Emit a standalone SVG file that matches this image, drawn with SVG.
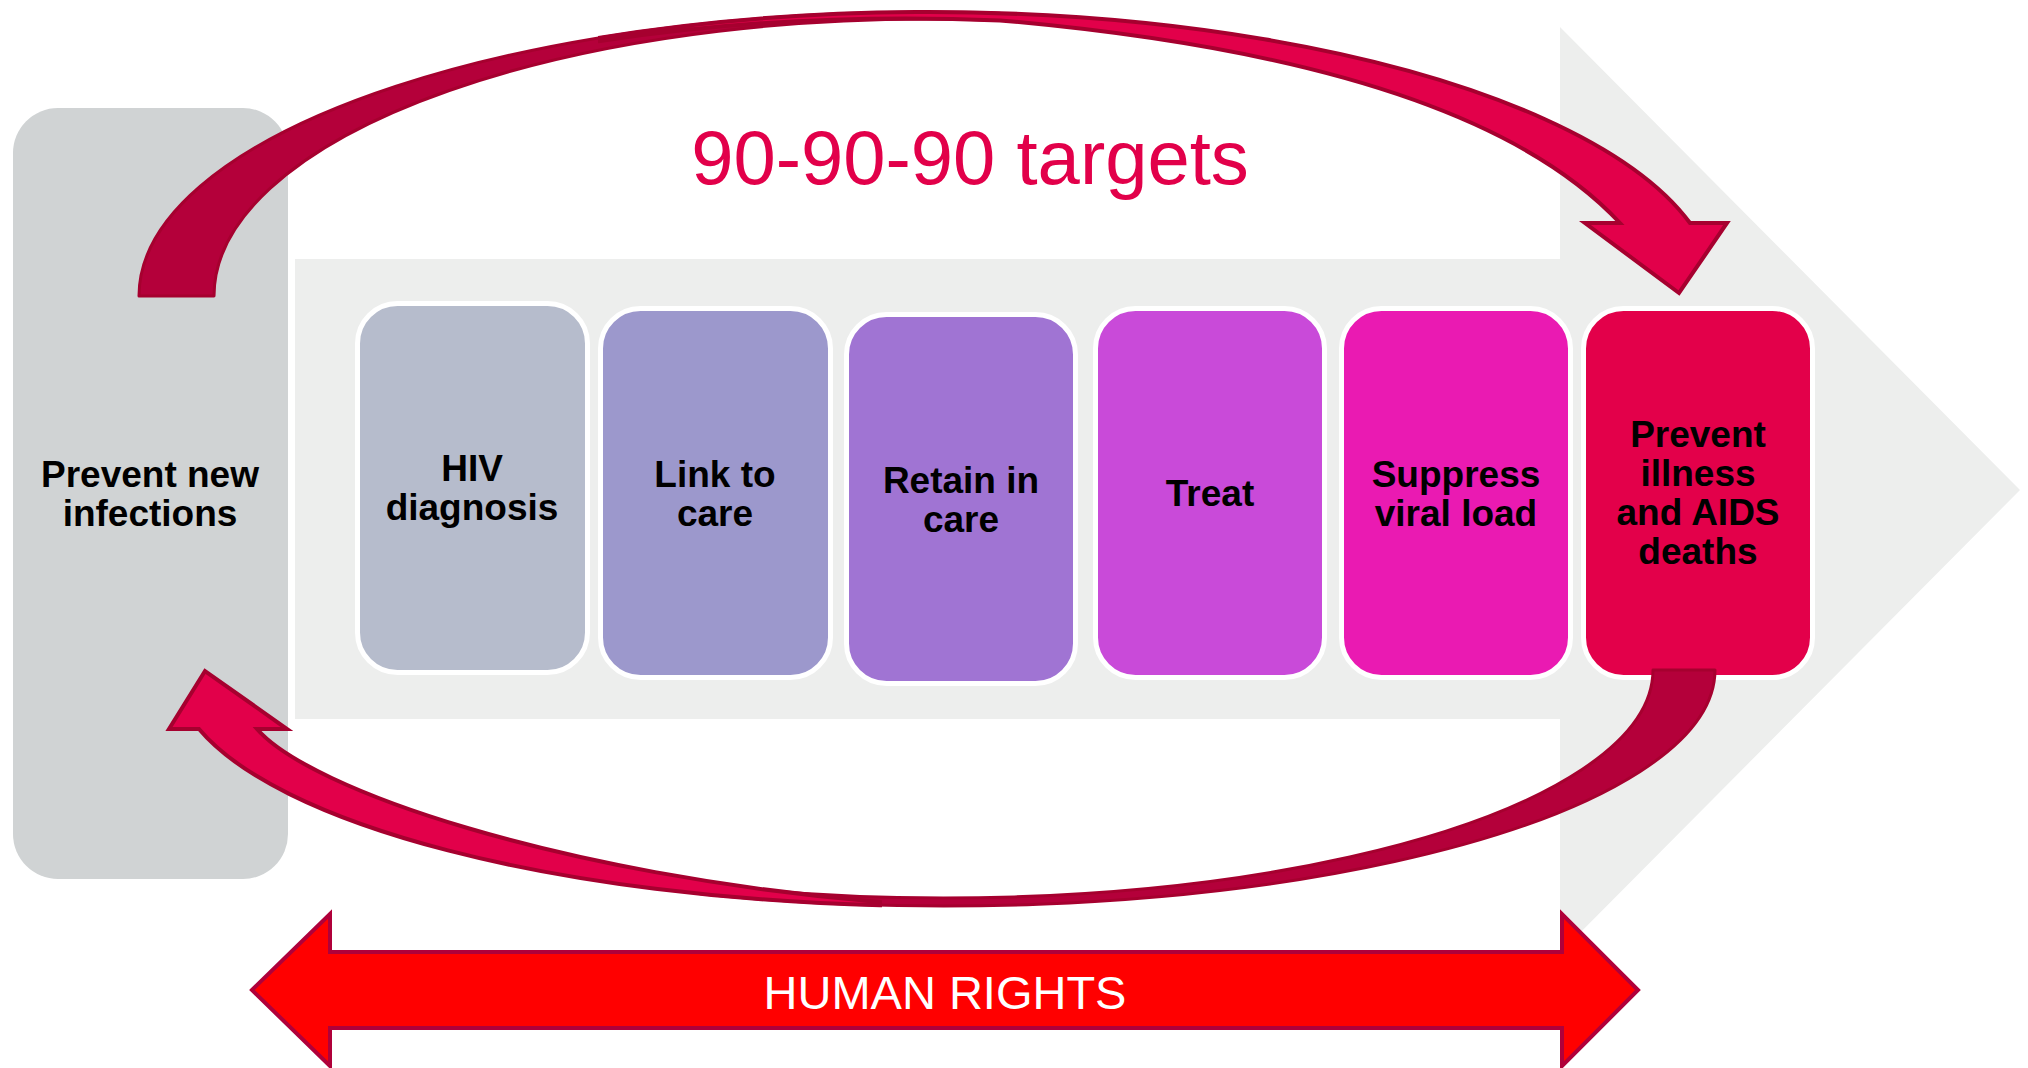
<svg xmlns="http://www.w3.org/2000/svg" width="2028" height="1068" viewBox="0 0 2028 1068">
  <style>
    .lbl { font-family: "Liberation Sans", Arial, sans-serif; font-weight: bold; font-size: 37px; fill: #000; text-anchor: middle; }
    .step { stroke: #ffffff; stroke-width: 5; }
    .back { fill: #b4003a; stroke: #a6002f; stroke-width: 3; stroke-linejoin: round; }
    .front { fill: #e2004a; stroke: #a6002f; stroke-width: 4; stroke-linejoin: miter; }
  </style>

  <rect width="2028" height="1068" fill="#ffffff"/>

  <!-- big background chevron -->
  <polygon id="chevron" points="295,259 1560,259 1560,27 2020,490 1560,953 1560,719 295,719" fill="#edeeed"/>

  <!-- left node -->
  <g id="prevent-new-infections">
    <rect x="13" y="108" width="275" height="771" rx="45" ry="45" fill="#d0d3d4"/>
    <text class="lbl" x="150" y="487">Prevent new</text>
    <text class="lbl" x="150" y="526">infections</text>
  </g>

  <!-- cascade steps -->
  <g id="hiv-diagnosis">
    <rect class="step" x="357.5" y="303.5" width="230" height="369" rx="40" ry="40" fill="#b6bccc"/>
    <text class="lbl" x="472" y="481">HIV</text>
    <text class="lbl" x="472" y="520">diagnosis</text>
  </g>
  <g id="link-to-care">
    <rect class="step" x="600.5" y="308.5" width="230" height="369" rx="40" ry="40" fill="#9c98cc"/>
    <text class="lbl" x="715" y="487">Link to</text>
    <text class="lbl" x="715" y="526">care</text>
  </g>
  <g id="retain-in-care">
    <rect class="step" x="846.5" y="314.5" width="229" height="369" rx="40" ry="40" fill="#a074d3"/>
    <text class="lbl" x="961" y="493">Retain in</text>
    <text class="lbl" x="961" y="532">care</text>
  </g>
  <g id="treat">
    <rect class="step" x="1095.5" y="308.5" width="229" height="369" rx="40" ry="40" fill="#c94ad9"/>
    <text class="lbl" x="1210" y="506">Treat</text>
  </g>
  <g id="suppress-viral-load">
    <rect class="step" x="1341.5" y="308.5" width="229" height="369" rx="40" ry="40" fill="#ea1ab2"/>
    <text class="lbl" x="1456" y="487">Suppress</text>
    <text class="lbl" x="1456" y="526">viral load</text>
  </g>
  <g id="prevent-illness">
    <rect class="step" x="1583.5" y="308.5" width="229" height="369" rx="40" ry="40" fill="#e3004a"/>
    <text class="lbl" x="1698" y="447">Prevent</text>
    <text class="lbl" x="1698" y="486">illness</text>
    <text class="lbl" x="1698" y="525">and AIDS</text>
    <text class="lbl" x="1698" y="564">deaths</text>
  </g>

  <!-- title -->
  <text id="title" x="970" y="184" font-family="'Liberation Sans', Arial, sans-serif" font-size="76" fill="#e2004a" text-anchor="middle">90-90-90 targets</text>

  <!-- curved connectors -->
  <g id="connectors">
    <!-- upper arc: from prevention over the top to the last step -->
    <path class="back" d="M139,296 A789,284 0 0 1 1000,13.2 L1000,20.4 A714,277 0 0 0 214,296 Z"/>
    <path class="front" d="M600,37.7 A789,284 0 0 1 1690,223 L1727,223 L1679,293 L1585,223 L1620,223 C1510,105 1280,45 1000,20.4 A789,284 0 0 0 600,41 Z"/>
    <!-- lower arc: from the last step back to prevention -->
    <path class="back" d="M1653,670 L1715,670 A770,236 0 0 1 700,893.7 L700,883.9 A708,228 0 0 0 1653,670 Z"/>
    <path class="front" d="M880,905.2 A770,236 0 0 1 199,729 L169,729 L205,671 L287,729 L257,729 C310,790 560,875 880,902 Z"/>
  </g>

  <!-- human rights double arrow -->
  <g id="human-rights">
    <polygon points="252,990 330,914 330,952 1562,952 1562,914 1638,990 1562,1066 1562,1028 330,1028 330,1066" fill="#ff0000" stroke="#b0003a" stroke-width="4" stroke-linejoin="miter"/>
    <text x="945" y="1009" font-family="'Liberation Sans', Arial, sans-serif" font-size="47" fill="#ffffff" text-anchor="middle">HUMAN RIGHTS</text>
  </g>
</svg>
